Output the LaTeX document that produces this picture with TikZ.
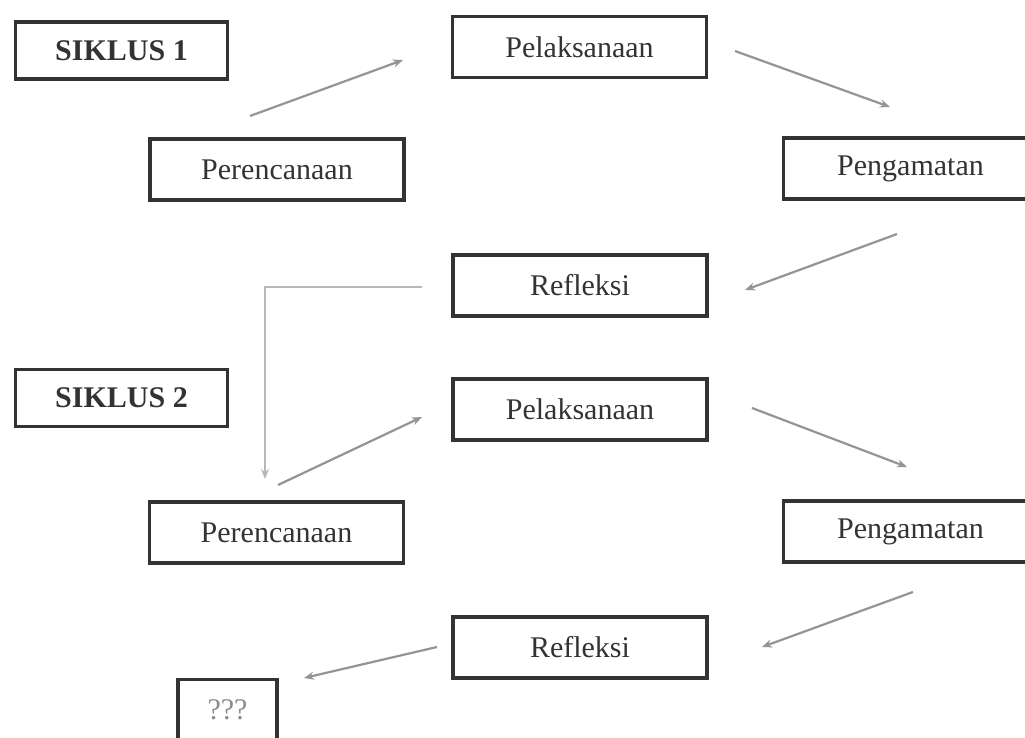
\documentclass[tikz,border=0pt]{standalone}
\usepackage{fontspec}
\setmainfont{Liberation Serif}
\usetikzlibrary{arrows.meta}
\begin{document}
\begin{tikzpicture}[x=0.5pt,y=-0.5pt,
  box/.style={draw=black!80, line width=1.6pt, fill=white, minimum width=127pt, minimum height=30.5pt, inner sep=0pt, font=\fontsize{15}{18}\selectfont, text=black!80},
  labelbox/.style={box, minimum width=106pt, minimum height=28.5pt, font=\bfseries\fontsize{15}{18}\selectfont},
  qbox/.style={box, minimum width=49.5pt, text=black!45},
  arr/.style={draw=black!42, line width=1.1pt, -{Stealth[length=5pt,width=4pt]}},
  elbow/.style={draw=black!28, line width=1.4pt, -{Stealth[length=5pt,width=4pt]}},
]
\useasboundingbox (0,0) rectangle (1025,738);
\clip (0,0) rectangle (1025,738);
\fill[white] (0,0) rectangle (1025,738);

\node[labelbox] (s1) at (121.5,50.5) {SIKLUS 1};
\node[box] (pel1) at (579.5,47) {Pelaksanaan};
\node[box] (per1) at (277,169.5) {Perencanaan};
\node[box] (pen1) at (910.5,168.5) {Pengamatan};
\node[box] (ref1) at (580,285.5) {Refleksi};
\node[labelbox] (s2) at (121.5,398) {SIKLUS 2};
\node[box] (pel2) at (580,409.5) {Pelaksanaan};
\node[box] (per2) at (276.5,532.5) {Perencanaan};
\node[box] (pen2) at (910.5,531.5) {Pengamatan};
\node[box] (ref2) at (580,647.5) {Refleksi};
\node[qbox] (q) at (227.5,710) {???};

\coordinate (a1s) at (250,116);  \coordinate (a1e) at (403,60);
\coordinate (a2s) at (735,51);   \coordinate (a2e) at (890,107);
\coordinate (a3s) at (897,234);  \coordinate (a3e) at (745,290);
\coordinate (e1) at (422,287);   \coordinate (e2) at (265,287); \coordinate (e3) at (265,479);
\coordinate (a5s) at (278,485);  \coordinate (a5e) at (422,417);
\coordinate (a6s) at (752,408);  \coordinate (a6e) at (907,467);
\coordinate (a7s) at (913,592);  \coordinate (a7e) at (762,647);
\coordinate (a8s) at (437,647);  \coordinate (a8e) at (304,678);

\draw[arr] (a1s) -- (a1e);
\draw[arr] (a2s) -- (a2e);
\draw[arr] (a3s) -- (a3e);
\draw[elbow] (e1) -- (e2) -- (e3);
\draw[arr] (a5s) -- (a5e);
\draw[arr] (a6s) -- (a6e);
\draw[arr] (a7s) -- (a7e);
\draw[arr] (a8s) -- (a8e);
\end{tikzpicture}
\end{document}
